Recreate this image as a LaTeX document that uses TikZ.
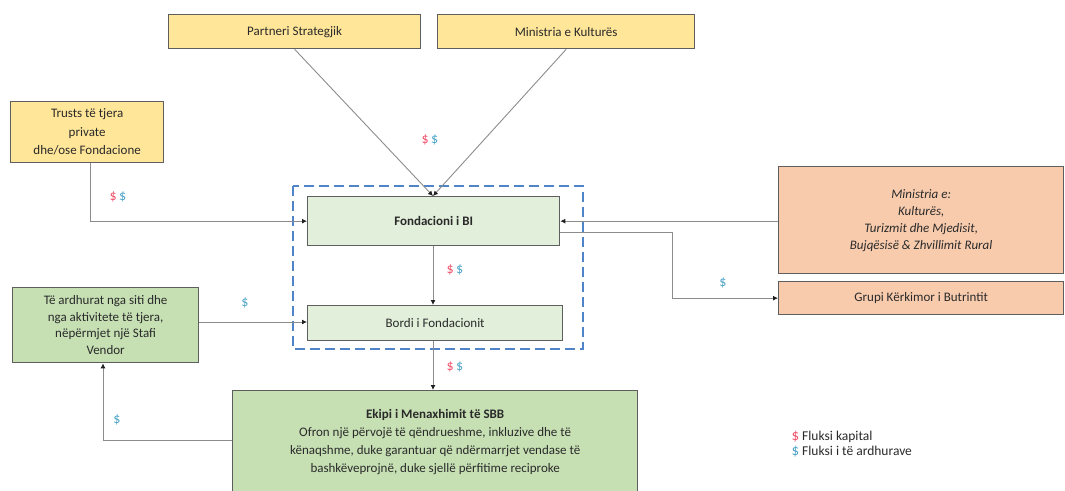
\documentclass[tikz,border=0pt]{standalone}
\usepackage{fontspec}
\setmainfont{Carlito}
\usetikzlibrary{arrows.meta}
\definecolor{yel}{HTML}{FFE699}
\definecolor{lgreen}{HTML}{E2EFDA}
\definecolor{dgreen}{HTML}{C6E0B4}
\definecolor{salmon}{HTML}{F8CBAD}
\definecolor{bord}{HTML}{5E5E5E}
\definecolor{conn}{HTML}{8C8C8C}
\definecolor{tipc}{HTML}{202020}
\definecolor{dashblue}{HTML}{4F84C8}
\definecolor{rd}{HTML}{F0506A}
\definecolor{bl}{HTML}{4BA3C6}
\definecolor{txt}{HTML}{2A2A2A}
\tikzset{
  box/.style={draw=bord, line width=1.3pt, anchor=north west, inner sep=2pt, align=center, text=txt, font=\fontsize{13}{17}\selectfont},
  ybox/.style={box, fill=yel},
  lgbox/.style={box, fill=lgreen},
  dgbox/.style={box, fill=dgreen},
  sbox/.style={box, fill=salmon},
  conline/.style={draw=conn, line width=0.9pt},
  arr/.style={conline, -{Latex[length=5pt,width=5pt,color=tipc]}},
  lbl/.style={font=\fontsize{14}{14}\selectfont}
}
\newcommand{\rb}{{\color{rd}\$}\,{\color{bl}\$}}
\begin{document}
\begin{tikzpicture}[x=1pt,y=-1pt]
\path[use as bounding box] (0,0) rectangle (1065,490);
% top boxes
\node[ybox, minimum width=252pt, minimum height=34pt] (ps) at (168,14) {Partneri Strategjik};
\node[ybox, minimum width=257pt, minimum height=34pt] (mk) at (437,14) {Ministria e Kulturës};
\node[ybox, minimum width=153pt, minimum height=61pt, font=\fontsize{13}{18.5}\selectfont] (tr) at (10,101) {Trusts të tjera\\private\\dhe/ose Fondacione};
% dashed group
\draw[dashblue, line width=1.3pt, dash pattern=on 10pt off 5pt] (293,186) rectangle (583,349);
\node[lgbox, minimum width=252pt, minimum height=49pt, font=\fontsize{13}{17}\selectfont\bfseries] (fb) at (307,196) {Fondacioni i BI};
\node[lgbox, minimum width=255pt, minimum height=35pt] (bf) at (307,305) {Bordi i Fondacionit};
% right boxes
\node[sbox, minimum width=285pt, minimum height=107pt, font=\fontsize{13}{17}\selectfont\itshape] (mr) at (778,166) {Ministria e:\\Kulturës,\\Turizmit dhe Mjedisit,\\Bujqësisë \& Zhvillimit Rural};
\node[sbox, minimum width=285pt, minimum height=33pt] (gk) at (778,281) {Grupi Kërkimor i Butrintit};
% left green
\node[dgbox, minimum width=186pt, minimum height=75pt, font=\fontsize{13}{16.5}\selectfont] (ta) at (12,287) {Të ardhurat nga siti dhe\\nga aktivitete të tjera,\\nëpërmjet një Stafi\\Vendor};
% bottom
\node[dgbox, minimum width=405pt, minimum height=102pt, font=\fontsize{13}{18}\selectfont] (ek) at (232,390) {\textbf{Ekipi i Menaxhimit të SBB}\\Ofron një përvojë të qëndrueshme, inkluzive dhe të\\kënaqshme, duke garantuar që ndërmarrjet vendase të\\bashkëveprojnë, duke sjellë përfitime reciproke};
% connectors
\coordinate (ft) at (433,196);
\draw[arr] (ps.south) -- (ft);
\draw[arr] (mk.south) -- (ft);
\node[lbl] at (430,140) {\rb};
\draw[arr] (tr.south -| 90,0) |- (fb.west);
\node[lbl] at (118,197) {\rb};
\draw[arr] (mr.west |- fb.west) -- (fb.east);
\draw[arr] (fb.east |- 0,232) -- (672,232) |- (gk.west);
\node[lbl, text=bl] at (723,283) {\$};
\draw[arr] (fb.south -| 433,0) -- (bf.north -| 433,0);
\node[lbl] at (455,270) {\rb};
\draw[arr] (ta.east |- 0,322) -- (bf.west |- 0,322);
\node[lbl, text=bl] at (245,303) {\$};
\draw[arr] (bf.south -| 433,0) -- (ek.north -| 433,0);
\node[lbl] at (455,367) {\rb};
\draw[arr] (ek.west |- 0,440) -| (ta.south -| 103,0);
\node[lbl, text=bl] at (117,420) {\$};
% legend
\node[anchor=west, font=\fontsize{13.5}{13.5}\selectfont, text=txt] (lg1) at (788,437) {{\color{rd}\fontsize{15}{15}\selectfont\$} Fluksi kapital};
\node[anchor=west, font=\fontsize{13.5}{13.5}\selectfont, text=txt] (lg2) at (788,452) {{\color{bl}\fontsize{15}{15}\selectfont\$} Fluksi i të ardhurave};
\end{tikzpicture}
\end{document}
